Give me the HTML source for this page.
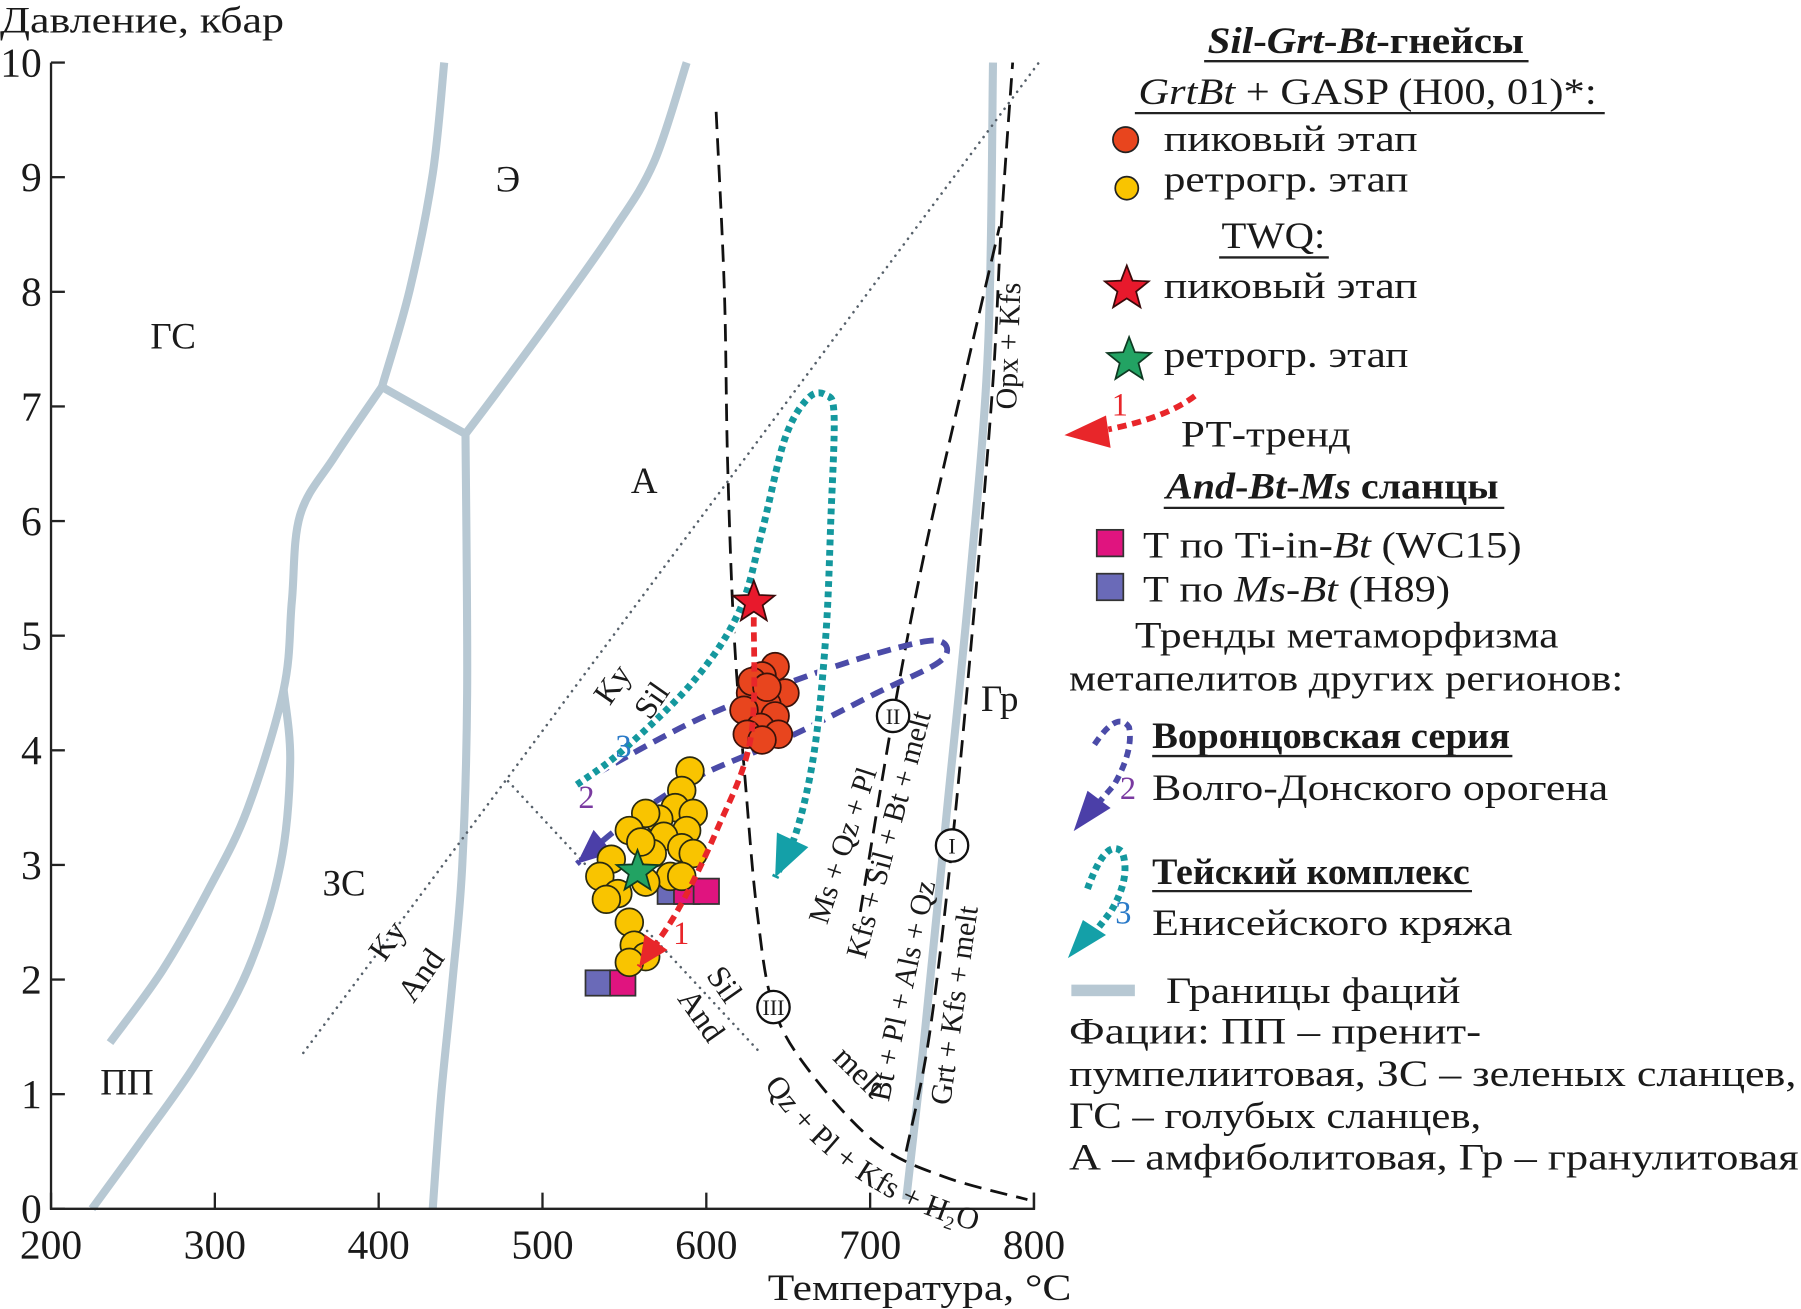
<!DOCTYPE html>
<html><head><meta charset="utf-8"><style>
html,body{margin:0;padding:0;background:#fff;}
svg{display:block;}
text{font-family:"Liberation Serif",serif;fill:#1a1a1a;}
</style></head><body>
<svg id="chart" width="1801" height="1309" viewBox="0 0 1560 1134" preserveAspectRatio="none" xmlns="http://www.w3.org/2000/svg">
<defs><path id="qzPath" d="M662,940 C700,995 760,1050 870,1072"/></defs>
<g id="plot"></g>
<text font-size="27"><textPath href="#qzPath">Qz + Pl + Kfs + H₂O</textPath></text>
<g id="legend">
  <text x="1046" y="46" font-size="32" font-weight="bold" textLength="274" lengthAdjust="spacingAndGlyphs"><tspan font-style="italic">Sil</tspan>-<tspan font-style="italic">Grt</tspan>-<tspan font-style="italic">Bt</tspan>-гнейсы</text>
  <line x1="1043" y1="53" x2="1324" y2="53" stroke="#222" stroke-width="2"/>
  <text x="986" y="90" font-size="32" textLength="397" lengthAdjust="spacingAndGlyphs"><tspan font-style="italic">GrtBt</tspan> + GASP (H00, 01)*:</text>
  <line x1="983" y1="98" x2="1390" y2="98" stroke="#222" stroke-width="2"/>
  <circle cx="975" cy="121" r="11" fill="#e8451e" stroke="#222" stroke-width="1.5"/>
  <text x="1008" y="131" font-size="32" textLength="220" lengthAdjust="spacingAndGlyphs">пиковый этап</text>
  <circle cx="976" cy="163" r="10" fill="#f9c400" stroke="#222" stroke-width="1.5"/>
  <text x="1008" y="166" font-size="32" textLength="212" lengthAdjust="spacingAndGlyphs">ретрогр. этап</text>
  <text x="1058" y="215" font-size="32" textLength="90" lengthAdjust="spacingAndGlyphs">TWQ:</text>
  <line x1="1056" y1="223" x2="1151" y2="223" stroke="#222" stroke-width="2"/>
  <polygon id="lgStarR" fill="#e8192c" stroke="#3a0a0a" stroke-width="1.5"/>
  <text x="1008" y="258" font-size="32" textLength="220" lengthAdjust="spacingAndGlyphs">пиковый этап</text>
  <polygon id="lgStarG" fill="#22a363" stroke="#0e3a22" stroke-width="1.5"/>
  <text x="1008" y="318" font-size="32" textLength="212" lengthAdjust="spacingAndGlyphs">ретрогр. этап</text>
  <path d="M1035,343 Q1010,362 960,372" fill="none" stroke="#e8262a" stroke-width="5" stroke-dasharray="8 5"/>
  <polygon points="922,377 958,360 962,388" fill="#e8262a"/>
  <text x="963" y="360" font-size="28" style="fill:#e8262a">1</text>
  <text x="1023" y="387" font-size="32" textLength="147" lengthAdjust="spacingAndGlyphs">РТ-тренд</text>
  <text x="1010" y="432" font-size="32" font-weight="bold" textLength="288" lengthAdjust="spacingAndGlyphs"><tspan font-style="italic">And</tspan>-<tspan font-style="italic">Bt</tspan>-<tspan font-style="italic">Ms</tspan> сланцы</text>
  <line x1="1008" y1="440" x2="1303" y2="440" stroke="#222" stroke-width="2"/>
  <rect x="950" y="459" width="23" height="23" fill="#e0147f" stroke="#333" stroke-width="1.5"/>
  <text x="990" y="483" font-size="32" textLength="328" lengthAdjust="spacingAndGlyphs">Т по Ti-in-<tspan font-style="italic">Bt</tspan> (WC15)</text>
  <rect x="950" y="497" width="23" height="23" fill="#6a6ab8" stroke="#333" stroke-width="1.5"/>
  <text x="990" y="521" font-size="32" textLength="266" lengthAdjust="spacingAndGlyphs">Т по <tspan font-style="italic">Ms</tspan>-<tspan font-style="italic">Bt</tspan> (H89)</text>
  <text x="983" y="561" font-size="32" textLength="367" lengthAdjust="spacingAndGlyphs">Тренды метаморфизма</text>
  <text x="926" y="598" font-size="32" textLength="480" lengthAdjust="spacingAndGlyphs">метапелитов других регионов:</text>
  <path d="M948,645 Q968,615 978,630 Q982,650 965,680 L952,695" fill="none" stroke="#4b4ba8" stroke-width="5" stroke-dasharray="7 5"/>
  <polygon points="930,720 942,685 962,700" fill="#4b3fa8"/>
  <text x="970" y="692" font-size="28" style="fill:#7a3aa0">2</text>
  <text x="998" y="648" font-size="32" font-weight="bold" textLength="310" lengthAdjust="spacingAndGlyphs">Воронцовская серия</text>
  <line x1="998" y1="655" x2="1310" y2="655" stroke="#222" stroke-width="2"/>
  <text x="998" y="693" font-size="32" textLength="395" lengthAdjust="spacingAndGlyphs">Волго-Донского орогена</text>
  <path d="M942,770 Q958,725 972,738 Q980,760 962,790 L948,808" fill="none" stroke="#14989e" stroke-width="6" stroke-dasharray="5 4"/>
  <polygon points="925,830 938,797 958,810" fill="#14a0a8"/>
  <text x="966" y="800" font-size="28" style="fill:#2a7ac8">3</text>
  <text x="998" y="766" font-size="32" font-weight="bold" textLength="275" lengthAdjust="spacingAndGlyphs">Тейский комплекс</text>
  <line x1="998" y1="772" x2="1275" y2="772" stroke="#222" stroke-width="2"/>
  <text x="998" y="810" font-size="32" textLength="312" lengthAdjust="spacingAndGlyphs">Енисейского кряжа</text>
  <rect x="928" y="853" width="55" height="10" fill="#b7c8d3"/>
  <text x="1010" y="869" font-size="32" textLength="255" lengthAdjust="spacingAndGlyphs">Границы фаций</text>
  <text x="926" y="904" font-size="32" textLength="357" lengthAdjust="spacingAndGlyphs">Фации: ПП – пренит-</text>
  <text x="926" y="941" font-size="32" textLength="630" lengthAdjust="spacingAndGlyphs">пумпелиитовая, ЗС – зеленых сланцев,</text>
  <text x="926" y="977" font-size="32" textLength="357" lengthAdjust="spacingAndGlyphs">ГС – голубых сланцев,</text>
  <text x="926" y="1013" font-size="32" textLength="632" lengthAdjust="spacingAndGlyphs">А – амфиболитовая, Гр – гранулитовая</text>
</g>
</svg>
<script>
// ---- data ----
const tempTicks = [200,300,400,500,600,700,800];
const pressureTicks = [0,1,2,3,4,5,6,7,8,9,10];
const peakT = [642,634,648,627,637,623,642,633,625,644,634,628,637];
const peakP = [4.73,4.65,4.50,4.50,4.40,4.35,4.30,4.20,4.14,4.14,4.09,4.60,4.55];
const retroT = [590,585,581,592,571,588,563,574,553,585,567,560,592,542,578,563,535,546,585,539,553,556,563,553];
const retroP = [3.82,3.65,3.50,3.45,3.40,3.30,3.45,3.25,3.30,3.15,3.10,3.20,3.10,3.05,2.90,2.85,2.90,2.75,2.90,2.70,2.50,2.30,2.20,2.15];
const msBtT = [578,534];
const msBtP = [2.77,1.97];
const tiBtT = [588,600,549];
const tiBtP = [2.77,2.77,1.97];
const starPeak = [629,5.29];
const starRetro = [558,2.94];
const trend1T = [629,627,606,582,559];
const trend1P = [5.16,4.10,3.29,2.59,2.11];
const trend2T = [521,592,662,718,743,743,704,648,592,549,521];
const trend2P = [3.70,4.25,4.65,4.90,4.95,4.78,4.50,4.10,3.75,3.35,3.01];
const trend3T = [521,549,592,620,634,648,662,673,678,676,673,666,655,642];
const trend3P = [3.70,4.00,4.60,5.21,5.91,6.72,7.07,7.10,6.92,6.01,5.01,4.00,3.29,2.89];
const faciesA = [[236,1.45],[268,2.08],[296,2.78],[320,3.49],[342,4.53],[347,5.3],[352,6.05],[373,6.56],[402,7.17]];
const faciesB = [[225,0],[254,0.57],[289,1.28],[320,2.08],[340,3.0],[346,3.9],[342,4.53]];
const faciesLink = [[402,7.17],[453,6.76]];
const faciesUL = [[402,7.17],[419,8.02],[433,9.03],[440,10]];
const faciesC = [[433,0],[438,0.97],[445,1.98],[451,2.99],[454,4.5],[453,6.76]];
const faciesUR = [[453,6.76],[472,7.12],[508,7.82],[543,8.53],[568,9.13],[588,10]];
const faciesGr = [[722,0.08],[733,1.48],[747,3.49],[761,5.5],[772,7.52],[775,10]];
const reactIII = [[606,9.57],[611,8.02],[613,6.51],[617,5.0],[624,3.69],[631,2.59],[641,1.76],[663,1.2],[704,0.57],[745,0.28],[796,0.08]];
const reactII = [[694,2.59],[714,4.30],[733,5.71],[757,7.22],[779,8.57]];
const reactI = [[722,0.5],[736,1.5],[750,3.17],[764,5.3],[775,7.22],[780,8.57],[787,10]];
const kySil = [[354,1.36],[803,10]];
const silAnd = [[479,3.73],[633,1.36]];

// ---- axes ----
const X = t => 44.2 + (t-200)*1.419;
const Y = p => 1047.2 - p*99.3;
const NS = 'http://www.w3.org/2000/svg';
const plot = document.getElementById('plot');
function mk(tag, attrs, parent){
  const e = document.createElementNS(NS, tag);
  for (const k in attrs) e.setAttribute(k, attrs[k]);
  (parent||plot).appendChild(e);
  return e;
}
function smooth(pts){
  const p = pts.map(a=>[X(a[0]),Y(a[1])]);
  let d = 'M'+p[0][0]+','+p[0][1];
  for (let i=0;i<p.length-1;i++){
    const p0=p[Math.max(i-1,0)],p1=p[i],p2=p[i+1],p3=p[Math.min(i+2,p.length-1)];
    const c1=[p1[0]+(p2[0]-p0[0])/6,p1[1]+(p2[1]-p0[1])/6];
    const c2=[p2[0]-(p3[0]-p1[0])/6,p2[1]-(p3[1]-p1[1])/6];
    d+=' C'+c1+' '+c2+' '+p2;
  }
  return d;
}
function starPts(cx,cy,R,r){
  const a=[];
  for(let i=0;i<10;i++){const rr=i%2?r:R;const ang=-Math.PI/2+i*Math.PI/5;a.push((cx+rr*Math.cos(ang)).toFixed(1)+','+(cy+rr*Math.sin(ang)).toFixed(1));}
  return a.join(' ');
}
function head(pts, len, wid, fill, name){
  const a=pts[pts.length-2], b=pts[pts.length-1];
  const x1=X(a[0]),y1=Y(a[1]),x2=X(b[0]),y2=Y(b[1]);
  const dx=x2-x1,dy=y2-y1,L=Math.hypot(dx,dy),ux=dx/L,uy=dy/L;
  const bx=x2-ux*len,by=y2-uy*len;
  const h = mk('polygon',{points:`${x2},${y2} ${bx-uy*wid/2},${by+ux*wid/2} ${bx+uy*wid/2},${by-ux*wid/2}`,fill:fill});
  
  
}
const zip = (T,P)=>T.map((t,i)=>[t,P[i]]);

// facies boundaries
[['facies-boundary-pp-zs-upper',faciesA],['facies-boundary-pp-zs-lower',faciesB],['facies-boundary-gs-link',faciesLink],['facies-boundary-gs-upper-left',faciesUL],['facies-boundary-zs-a',faciesC],['facies-boundary-gs-e',faciesUR],['facies-boundary-a-gr',faciesGr]].forEach(([n,pts])=>{
  const e = mk('path',{d:smooth(pts),fill:'none',stroke:'#b7c8d3','stroke-width':7,'stroke-linejoin':'round'});
  
  
});
// aluminosilicate dotted lines
[['ky-sil-line',kySil],['sil-and-line',silAnd]].forEach(([n,pts])=>{
  const e = mk('path',{d:smooth(pts),fill:'none',stroke:'#56606a','stroke-width':2.2,'stroke-dasharray':'0.1 6','stroke-linecap':'round'});
  
  
});
// reactions dashed
[['reaction-iii-curve',reactIII],['reaction-ii-curve',reactII],['reaction-i-curve',reactI]].forEach(([n,pts])=>{
  const e = mk('path',{d:smooth(pts),fill:'none',stroke:'#111','stroke-width':2.4,'stroke-dasharray':'15 8'});
  
  
});
// reaction circles
[['reaction-circle-iii',641,1.76,'III'],['reaction-circle-ii',714,4.3,'II'],['reaction-circle-i',750,3.17,'I']].forEach(([n,t,p,lbl])=>{
  const g = mk('g',{});
  
  
  mk('circle',{cx:X(t),cy:Y(p),r:14,fill:'#fff',stroke:'#111','stroke-width':2},g);
  const tx = mk('text',{x:X(t),y:Y(p)+7,'font-size':19,'text-anchor':'middle'},g);
  tx.textContent = lbl;
});
// trend 2 (blue)
const tr2 = zip(trend2T,trend2P);
const t2 = mk('path',{d:smooth(tr2),fill:'none',stroke:'#4b4ba8','stroke-width':5,'stroke-dasharray':'12 7'});


head(tr2,30,26,'#4b3fa8','trend-2-arrowhead');
// trend 3 (teal)
const tr3 = zip(trend3T,trend3P);
const t3h = mk('path',{d:smooth(tr3),fill:'none',stroke:'#fff','stroke-width':10});


const t3 = mk('path',{d:smooth(tr3),fill:'none',stroke:'#14989e','stroke-width':6,'stroke-dasharray':'5 4'});


head(tr3,36,30,'#14a0a8','trend-3-arrowhead');
// squares
function sq(T,P,fill,name){
  T.forEach((t,i)=>{
    const r = mk('rect',{x:X(t)-11,y:Y(P[i])-11,width:22,height:22,fill:fill,stroke:'#333','stroke-width':1.5});
    
    
  });
}
sq(msBtT,msBtP,'#6a6ab8','ms-bt-square');
sq(tiBtT,tiBtP,'#e0147f','ti-in-bt-square');
// circles
retroT.forEach((t,i)=>{
  const c = mk('circle',{cx:X(t),cy:Y(retroP[i]),r:12,fill:'#f9c400',stroke:'#2a2a10','stroke-width':1.5});
  
  
});
peakT.forEach((t,i)=>{
  const c = mk('circle',{cx:X(t),cy:Y(peakP[i]),r:12,fill:'#e8451e',stroke:'#3a120a','stroke-width':1.5});
  
  
});
// trend 1 (red)
const tr1 = zip(trend1T,trend1P);
const t1 = mk('path',{d:smooth(tr1),fill:'none',stroke:'#e8262a','stroke-width':5,'stroke-dasharray':'8 5'});


head(tr1,26,24,'#e8262a','trend-1-arrowhead');
// stars
const sR = mk('polygon',{points:starPts(X(starPeak[0]),Y(starPeak[1]),19,8),fill:'#e8192c',stroke:'#3a0a0a','stroke-width':1.5});


const sG = mk('polygon',{points:starPts(X(starRetro[0]),Y(starRetro[1]),19,8),fill:'#22a363',stroke:'#0e3a22','stroke-width':1.5});


document.getElementById('lgStarR').setAttribute('points',starPts(976,250,20,8.5));
document.getElementById('lgStarG').setAttribute('points',starPts(978,312,20,8.5));

// axes
const ax = mk('path',{d:`M${X(200)},${Y(10)} V${Y(0)} H${X(800)} V${Y(0)-14}`,fill:'none',stroke:'#222','stroke-width':2});


pressureTicks.forEach(p=>{
  const l = mk('line',{x1:X(200),x2:X(200)+12,y1:Y(p),y2:Y(p),stroke:'#222','stroke-width':2});
  
  
  const t = mk('text',{x:X(200)-8,y:Y(p)+12,'font-size':36,'text-anchor':'end'});
  
  
  t.textContent = p;
});
tempTicks.forEach(v=>{
  const l = mk('line',{x1:X(v),x2:X(v),y1:Y(0),y2:Y(0)-14,stroke:'#222','stroke-width':2});
  
  
  const t = mk('text',{x:X(v),y:Y(0)+43,'font-size':36,'text-anchor':'middle',textLength:54,lengthAdjust:'spacingAndGlyphs'});
  
  
  t.textContent = v;
});
// labels
const labels = [
  ['y-axis-title','Давление, кбар',0,28,32,0,'start',246],
  ['x-axis-title','Температура, °С',665,1126,32,0,'start',263],
  ['facies-label-e','Э',440,166,32,0,'middle'],
  ['facies-label-gs','ГС',150,302,32,0,'middle'],
  ['facies-label-a','А',558,427,32,0,'middle'],
  ['facies-label-zs','ЗС',298,776,32,0,'middle'],
  ['facies-label-pp','ПП',110,948,32,0,'middle'],
  ['facies-label-gr','Гр',866,616,32,0,'middle'],
  ['ky-label-upper','Ky',538,598,28,-55,'middle'],
  ['sil-label-upper','Sil',572,612,28,-55,'middle'],
  ['ky-label-lower','Ky',343,820,28,-55,'middle'],
  ['and-label-lower','And',372,850,28,-55,'middle'],
  ['sil-label-lower','Sil',620,858,28,55,'middle'],
  ['and-label-right','And',600,885,28,55,'middle'],
  ['melt-label','melt',738,935,28,45,'middle'],
  ['ms-qz-pl-label','Ms + Qz + Pl',738,735,26,-72,'middle'],
  ['kfs-sil-bt-melt-label','Kfs + Sil + Bt + melt',778,725,26,-75,'middle'],
  ['bt-pl-als-qz-label','Bt + Pl + Als + Qz',790,860,26,-78,'middle'],
  ['grt-kfs-melt-label','Grt + Kfs + melt',835,872,26,-82,'middle'],
  ['opx-kfs-label','Opx + Kfs',882,300,26,-88,'middle']
];
labels.forEach(([n,txt,x,y,fs,rot,anchor,len])=>{
  const a = {x:x,y:y,'font-size':fs,'text-anchor':anchor};
  if (rot) a.transform = `rotate(${rot} ${x} ${y})`;
  if (len) {a.textLength=len; a.lengthAdjust='spacingAndGlyphs';}
  const t = mk('text',a);
  
  
  t.textContent = txt;
});
[['trend-number-1','1',590,818,'#e8262a'],['trend-number-2','2',508,700,'#7a3aa0'],['trend-number-3','3',540,656,'#2a7ac8']].forEach(([n,txt,x,y,c])=>{
  const t = mk('text',{x:x,y:y,'font-size':28,'text-anchor':'middle',style:'fill:'+c});
  
  
  t.textContent = txt;
});
</script>
</body></html>
